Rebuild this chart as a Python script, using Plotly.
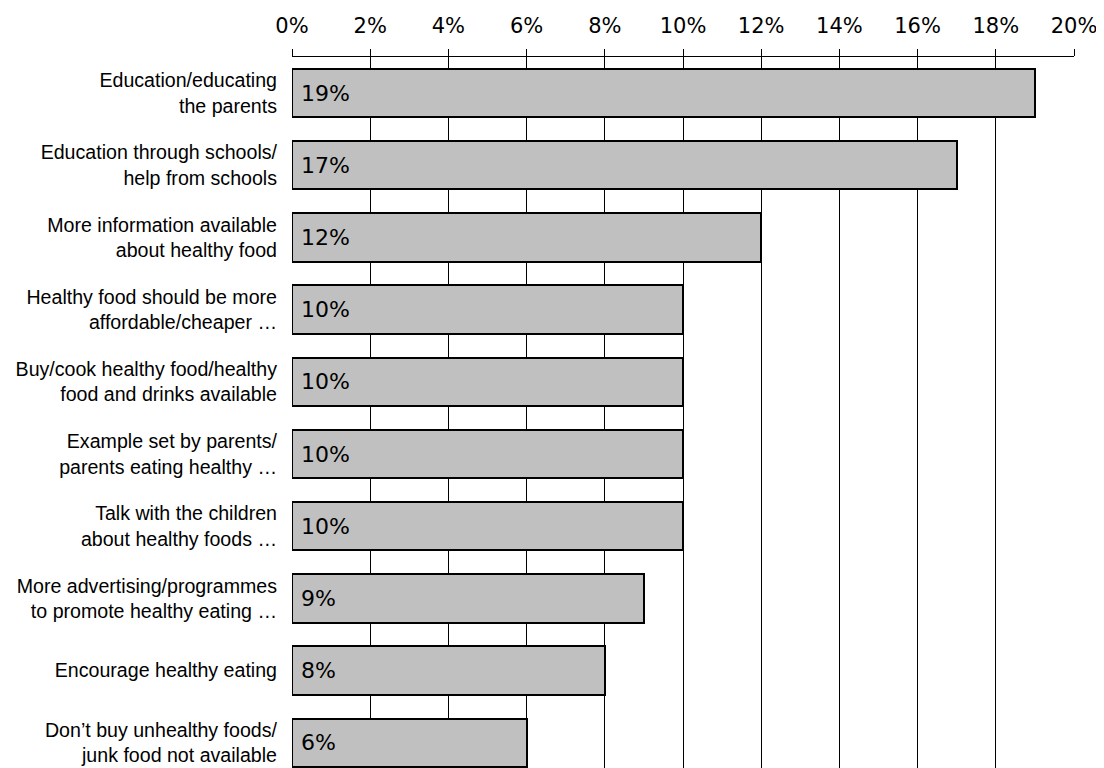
import plotly.graph_objects as go

# answers, top to bottom
answers = [
    "Education/educating<br>the parents",
    "Education through schools/<br>help from schools",
    "More information available<br>about healthy food",
    "Healthy food should be more<br>affordable/cheaper …",
    "Buy/cook healthy food/healthy<br>food and drinks available",
    "Example set by parents/<br>parents eating healthy …",
    "Talk with the children<br>about healthy foods …",
    "More advertising/programmes<br>to promote healthy eating …",
    "Encourage healthy eating",
    "Don’t buy unhealthy foods/<br>junk food not available",
]
share = [19, 17, 12, 10, 10, 10, 10, 9, 8, 6]
tick_vals = [0, 2, 4, 6, 8, 10, 12, 14, 16, 18, 20]
tick_text = [f"{v}%" for v in tick_vals]

fig = go.Figure()
fig.add_trace(go.Bar(
    y=answers,
    x=share,
    orientation="h",
    width=0.67,
    marker=dict(color="#c0c0c0", line=dict(color="black", width=2)),
    hoverinfo="skip",
))

# value labels at the start of each bar
for a, v in zip(answers, share):
    fig.add_annotation(
        x=0, y=a, text=f"{v}%", showarrow=False,
        xanchor="left", yanchor="middle", xshift=7,
        font=dict(family="DejaVu Sans", size=22, color="black"),
    )

# page body has an 8px margin, so offsets are taken off here
fig.update_layout(
    width=1104, height=768,
    margin=dict(l=284, r=38, t=49, b=0),
    paper_bgcolor="white", plot_bgcolor="white",
    showlegend=False,
    bargap=0,
)
fig.update_xaxes(
    side="top",
    range=[0, 20],
    tickvals=tick_vals, ticktext=tick_text,
    tickfont=dict(family="DejaVu Sans", size=21, color="black"),
    ticks="outside", ticklen=7, tickcolor="black", tickwidth=1,
    showline=True, linecolor="black", linewidth=1,
    showgrid=True, gridcolor="black", gridwidth=1,
    zeroline=False,
    ticklabelstandoff=8,
)
fig.update_yaxes(
    range=[9.46, -0.5],
    tickfont=dict(family="Liberation Sans, Arial", size=19.6, color="black"),
    ticks="", showgrid=False, showline=False, zeroline=False,
    ticklabelstandoff=14,
)

fig.write_html("out.html")
